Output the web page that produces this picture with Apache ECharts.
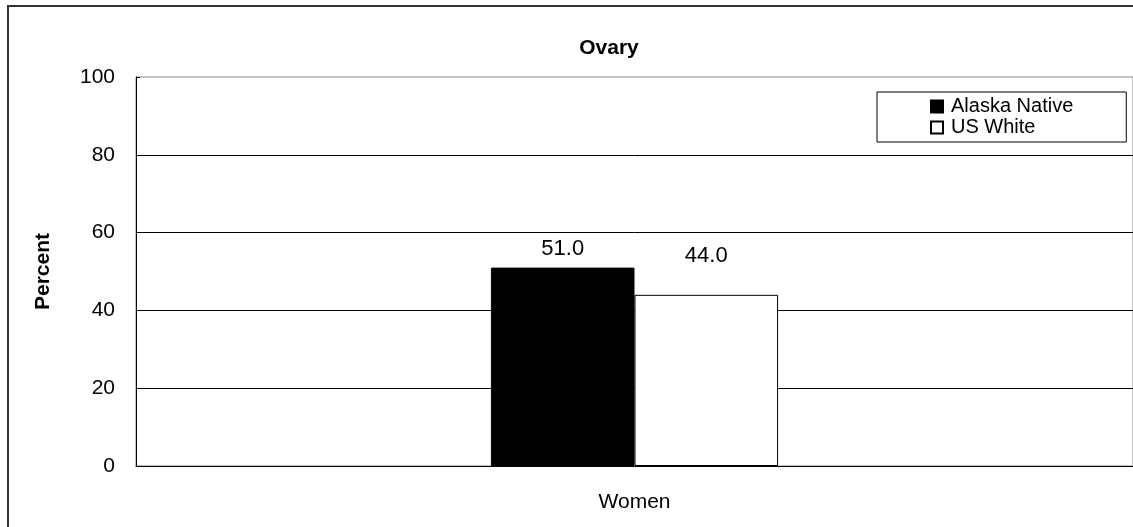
<!DOCTYPE html>
<html>
<head>
<meta charset="utf-8">
<script src="https://cdn.jsdelivr.net/npm/echarts@6/dist/echarts.min.js"></script>
<style>
	html, body { margin: 0; padding: 0; background: #fff; }
	#chart { width: 1133px; height: 527px; }
</style>
</head>
<body>
<div id="chart"></div>
<script>
var categories = ['Women'];
var alaskaNative = [51.0];
var usWhite = [44.0];
var yTicks = [0, 20, 40, 60, 80, 100];

var font = 'Arial, "Liberation Sans", sans-serif';

var chart = echarts.init(document.getElementById('chart'));
chart.setOption({
	animation: false,
	title: {	// 标题
		text: 'Ovary',
		left: 604,
		top: 33,
		textAlign: 'center',
		textStyle: { fontFamily: font, fontSize: 21, fontWeight: 'bold', color: '#000' }
	},
	legend: {
		data: ['Alaska Native', 'US White'],
		orient: 'vertical',
		left: 877,
		top: 92,
		padding: [4, 53, 4, 53],
		itemGap: 0,
		itemWidth: 12,
		itemHeight: 12,
		borderColor: '#000',
		borderWidth: 1,
		borderRadius: 0,
		icon: 'rect',
		textStyle: { fontFamily: font, fontSize: 20, lineHeight: 21, color: '#000', padding: [0, 0, 0, 3] }
	},
	grid: {
		left: 136, top: 77, right: -3, bottom: 61,
		show: true,
		borderColor: '#888',
		borderWidth: 1
	},
	xAxis: {
		type: 'category',
		data: categories,
		axisLine: { lineStyle: { color: '#000', width: 1 } },
		axisTick: { show: false },
		axisLabel: { fontFamily: font, fontSize: 21, color: '#000', margin: 26 }
	},
	yAxis: {
		type: 'value',
		min: yTicks[0],
		max: yTicks[yTicks.length - 1],
		interval: 20,
		name: 'Percent',
		nameLocation: 'middle',
		nameGap: 82,
		nameTextStyle: { fontFamily: font, fontSize: 21, fontWeight: 'bold', color: '#000' },
		axisLine: { show: true, lineStyle: { color: '#000' } },
		axisTick: { show: true, inside: true, length: 4, lineStyle: { color: '#000' } },
		axisLabel: { fontFamily: font, fontSize: 21, color: '#000', margin: 21 },
		splitLine: { showMaxLine: false, showMinLine: false, lineStyle: { color: '#000', width: 1 } }
	},
	series: [
		{
			name: 'Alaska Native',
			type: 'bar',
			data: alaskaNative,
			barWidth: '14.4%',
			barGap: '0%',
			itemStyle: { color: '#000', borderColor: '#000', borderWidth: 1 },
			label: {
				show: true, position: 'top', distance: 8,
				formatter: function (p) { return p.value.toFixed(1); },
				fontFamily: font, fontSize: 22, color: '#000'
			}
		},
		{
			name: 'US White',
			type: 'bar',
			data: usWhite,
			barWidth: '14.4%',
			itemStyle: { color: '#fff', borderColor: '#000', borderWidth: 1 },
			label: {
				show: true, position: 'top', distance: 28,
				formatter: function (p) { return p.value.toFixed(1); },
				fontFamily: font, fontSize: 22, color: '#000'
			}
		}
	],
	graphic: [{
		type: 'rect',
		shape: { x: 8, y: 6, width: 1200, height: 600 },
		style: { fill: 'none', stroke: '#333', lineWidth: 2 },
		silent: true,
		z: 100
	}]
});
</script>
</body>
</html>
